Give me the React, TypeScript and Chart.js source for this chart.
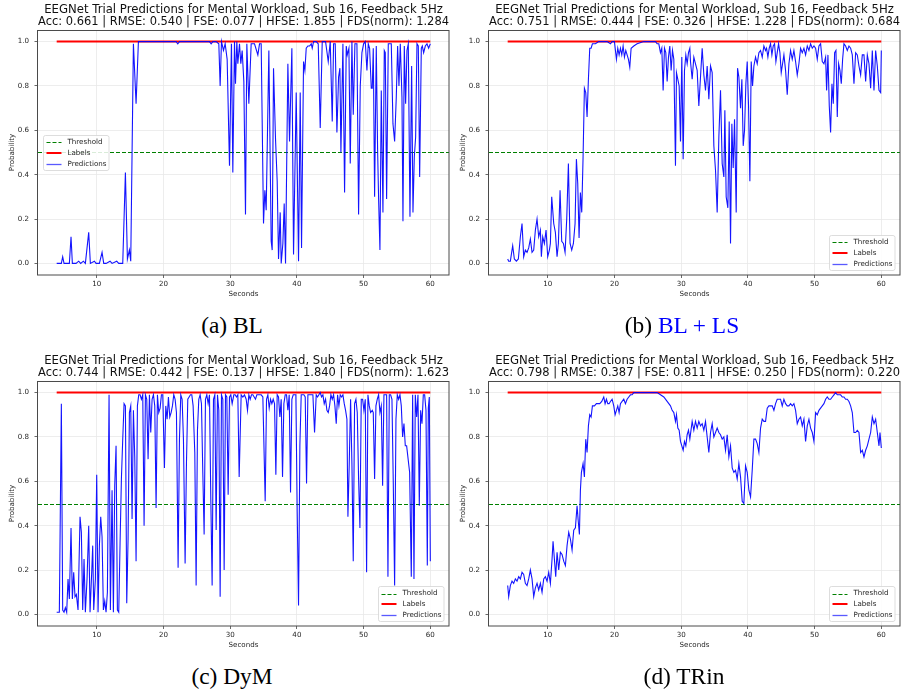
import React, { useEffect, useRef } from "react";
import { Chart, registerables } from "chart.js";
Chart.register(...registerables);

const SANS = "'DejaVu Sans', sans-serif";
const SERIF = "'Liberation Serif', 'Times New Roman', serif";

const TITLE = "EEGNet Trial Predictions for Mental Workload, Sub 16, Feedback 5Hz";
const X_TICKS = [10, 20, 30, 40, 50, 60];
const Y_TICKS = [0, 0.2, 0.4, 0.6, 0.8, 1.0];
const X_LIMITS = [1.2, 62.8];
const Y_LIMITS = [-0.05, 1.05];
const THRESHOLD = 0.5;
const LABEL_VALUE = 1.0;
const LEGEND_LABELS = ["Threshold", "Labels", "Predictions"];

// (a) BL
const BL_SECONDS = [4.0,4.5,4.7,4.9,5.1,5.9,6.15,6.35,6.9,7.3,7.6,8.0,8.3,8.8,9.05,9.65,9.9,10.4,10.8,11.05,11.4,12.0,12.3,13.0,13.3,13.9,14.3,14.6,14.9,15.1,15.5,15.9,16.25,17.9,21.9,22.15,22.4,26.9,27.15,27.4,27.9,28.3,28.5,28.7,29.0,29.25,29.55,29.9,30.2,30.4,30.65,30.8,31.0,31.15,31.4,31.6,31.8,32.05,32.3,32.5,32.8,
33.15,33.65,34.15,34.4,34.65,35.0,35.2,35.4,35.8,36.15,36.3,36.5,36.8,37.05,37.25,37.5,37.65,37.9,38.1,38.3,38.65,38.9,39.25,39.5,39.9,40.25,40.5,40.7,41.0,41.2,41.4,41.65,41.9,42.15,42.3,42.5,42.9,43.2,43.5,43.8,44.3,44.7,45.0,45.3,45.5,45.75,46.0,46.25,46.45,46.6,46.9,47.15,47.4,47.55,47.8,48.0,48.25,48.45,48.7,49.0,49.25,49.5,49.75,50.0,50.25,50.5,50.7,50.9,51.15,51.3,51.45,51.65,51.9,52.1,52.25,52.45,52.65,52.9,53.1,53.25,53.45,53.7,54.15,54.4,54.65,54.9,55.1,55.3,55.5,55.75,55.9,56.1,56.3,56.5,56.7,56.95,57.2,57.4,57.6,57.8,58.0,58.2,58.4,58.65,58.8,59.0,59.25,59.5,59.75,60.0];
const BL_PRED = [0.00,0.00,0.00,0.03,0.00,0.00,0.12,0.00,0.00,0.01,0.00,0.01,0.00,0.14,0.00,0.01,0.00,0.00,0.05,0.00,0.00,0.01,0.00,0.01,0.00,0.00,0.41,0.02,0.06,0.01,0.99,0.72,1.0,1.0,1.0,0.99,1.0,1.0,0.99,1.0,1.0,0.99,0.80,1.0,0.96,0.99,0.92,0.44,0.99,0.41,1.0,0.81,1.0,0.90,0.99,0.90,0.96,0.82,0.22,0.99,0.72,
0.99,0.99,0.94,0.99,0.99,0.18,0.33,0.24,0.96,0.10,0.06,0.88,0.56,0.37,0.02,0.23,0.00,0.09,0.27,0.00,0.90,0.55,0.97,0.04,0.77,0.01,0.77,0.07,0.91,0.87,0.97,0.98,0.98,0.99,0.97,1.0,1.0,0.99,0.61,1.0,1.0,0.91,1.0,0.64,0.99,0.99,0.59,0.84,0.88,0.50,0.99,0.32,0.98,0.94,0.97,0.45,1.0,0.67,0.99,0.99,0.22,0.80,0.95,0.99,1.0,0.87,0.99,0.97,0.79,0.79,0.97,0.30,0.98,0.51,0.29,0.06,0.78,0.23,0.96,0.95,0.29,0.99,0.99,0.63,0.55,0.75,0.98,0.80,0.99,0.75,0.19,0.98,0.72,0.96,0.99,0.21,0.89,0.23,0.48,0.57,0.99,0.98,0.39,0.97,0.98,0.95,0.98,0.99,0.97,0.99];

// (b) BL + LS
const LS_SECONDS = [4.0,4.15,4.4,4.75,5.0,5.3,5.6,5.9,6.15,6.4,6.65,6.9,7.15,7.4,7.65,7.9,8.15,8.4,8.65,8.9,9.05,9.25,9.5,9.75,10.0,10.25,10.4,10.6,10.9,11.15,11.4,11.6,11.85,12.1,12.35,12.6,12.85,13.1,13.35,13.6,13.85,14.1,14.3,14.5,14.7,14.9,15.1,15.3,15.5,15.7,15.9,16.1,16.3,16.5,16.7,17.15,17.65,18.4,18.9,19.4,19.65,20.0,20.3,20.5,20.7,20.9,21.1,21.3,21.5,21.7,21.9,22.1,22.3,22.5,22.9,23.4,24.4,25.4,26.15,26.4,26.65,26.9,27.1,27.3,27.5,27.7,27.9,28.1,28.3,28.5,28.7,28.9,29.15,29.3,29.5,29.7,29.9,30.1,30.3,30.5,30.7,30.9,31.1,31.3,
31.4,31.65,31.9,32.15,32.4,32.65,32.9,33.15,33.4,33.65,33.9,34.15,34.4,34.65,34.9,35.15,35.4,35.65,35.9,36.15,36.4,36.55,36.75,37.0,37.2,37.4,37.6,37.8,38.0,38.25,38.45,38.65,38.9,39.1,39.3,39.5,39.7,39.9,40.1,40.3,40.5,40.7,40.9,41.15,41.4,41.65,41.9,42.15,42.4,42.65,42.8,43.0,43.2,43.4,43.6,43.8,44.0,44.2,44.4,44.6,44.8,45.0,45.2,45.4,45.65,45.9,46.15,46.4,46.65,46.9,47.15,47.4,47.65,47.9,48.15,48.4,48.65,48.9,49.15,49.4,49.65,49.9,50.15,50.4,50.65,50.9,51.15,51.4,51.65,51.8,52.0,52.2,52.4,52.6,52.8,53.0,53.2,53.4,53.6,53.8,54.0,54.2,54.4,54.65,54.9,55.15,55.4,55.65,55.9,56.15,56.4,56.65,56.9,57.15,57.4,57.65,57.9,58.15,58.4,58.65,58.9,59.15,59.4,59.65,59.9,60.0];
const LS_PRED = [0.02,0.01,0.01,0.08,0.02,0.01,0.02,0.12,0.18,0.03,0.06,0.05,0.07,0.11,0.05,0.06,0.15,0.20,0.12,0.15,0.03,0.12,0.09,0.15,0.03,0.06,0.09,0.30,0.18,0.14,0.03,0.09,0.33,0.10,0.09,0.05,0.20,0.45,0.09,0.06,0.09,0.18,0.47,0.36,0.115,0.32,0.23,0.48,0.79,0.77,0.66,0.83,0.97,0.97,0.99,0.99,1.0,1.0,1.0,0.99,1.0,1.0,0.92,0.97,0.94,0.97,0.94,0.98,0.93,0.96,0.94,0.92,0.885,0.97,0.98,0.99,1.0,1.0,1.0,0.99,0.99,0.95,0.97,0.78,0.97,0.95,0.82,0.93,0.98,0.87,0.96,0.92,0.44,0.86,0.83,0.80,0.55,0.93,0.47,0.87,0.94,0.90,0.95,0.97,
0.91,0.83,0.93,0.90,0.87,0.71,0.84,0.97,0.85,0.78,0.89,0.74,0.89,0.86,0.53,0.42,0.23,0.57,0.78,0.45,0.39,0.69,0.30,0.25,0.64,0.09,0.63,0.43,0.65,0.23,0.88,0.84,0.70,0.83,0.53,0.60,0.81,0.91,0.71,0.37,0.91,0.80,0.89,0.93,0.90,0.95,0.96,0.93,0.98,0.96,0.97,0.93,0.97,0.99,0.94,0.98,0.99,0.91,0.95,0.99,0.95,0.86,0.90,0.94,0.87,0.76,0.90,0.96,0.92,0.96,0.91,0.85,0.90,0.97,0.95,0.97,0.94,0.98,0.96,0.99,0.97,0.98,0.97,0.92,0.98,0.99,0.91,0.90,0.93,0.78,0.94,0.71,0.59,0.81,0.72,0.95,0.96,0.66,0.90,0.87,0.81,0.92,0.99,0.98,0.96,0.98,0.97,0.94,0.81,0.95,0.94,0.89,0.85,0.94,0.94,0.82,0.94,0.90,0.79,0.96,0.78,0.96,0.89,0.78,0.77,0.96];

// (c) DyM
const DYM_SECONDS = [4.0,4.15,4.4,4.7,4.9,5.1,5.3,5.5,5.7,5.9,6.15,6.35,6.55,6.75,6.95,7.2,7.5,7.7,7.9,8.1,8.3,8.55,8.8,9.0,9.25,9.4,9.55,9.8,10.0,10.2,10.4,10.6,10.8,11.0,11.2,11.4,11.6,11.85,12.05,12.3,12.5,12.7,12.9,13.1,13.3,13.5,13.7,13.9,14.1,14.3,14.5,14.7,14.9,15.1,15.3,15.5,15.7,15.9,16.1,16.3,16.5,16.7,16.9,17.1,17.3,17.5,17.7,17.9,18.1,18.3,18.5,18.7,18.9,19.1,19.3,19.5,19.7,19.9,20.15,20.35,20.55,20.75,20.95,21.15,21.35,21.55,21.75,21.95,22.2,22.4,22.6,22.8,23.0,23.25,23.45,23.65,23.85,24.05,24.25,24.45,24.7,24.9,25.1,25.3,25.5,25.7,25.9,26.1,26.3,26.5,26.7,26.9,27.1,27.3,27.5,27.7,27.9,28.1,28.3,28.5,28.7,28.9,29.1,29.3,29.5,29.7,29.9,30.1,30.3,30.55,30.75,30.95,31.15,31.35,
31.65,31.9,32.15,32.4,32.6,32.8,33.0,33.2,33.4,33.6,33.8,34.0,34.2,34.4,34.65,34.9,35.05,35.25,35.45,35.65,35.85,36.05,36.25,36.45,36.65,36.85,37.05,37.25,37.45,37.65,37.85,38.05,38.25,38.45,38.65,38.85,39.05,39.25,39.45,39.65,39.85,40.05,40.25,40.45,40.65,40.85,41.05,41.25,41.45,41.65,41.9,42.15,42.4,42.65,42.9,43.1,43.3,43.5,43.7,43.9,44.1,44.3,44.5,44.7,44.9,45.1,45.3,45.5,45.7,45.9,46.1,46.3,46.5,46.7,46.9,47.1,47.3,47.5,47.65,47.85,48.05,48.25,48.45,48.65,48.85,49.05,49.25,49.45,49.65,49.85,50.05,50.25,50.45,50.65,50.85,51.05,51.3,51.45,51.65,51.85,52.05,52.25,52.45,52.65,52.85,53.05,53.25,53.45,53.65,53.85,54.05,54.25,54.45,54.65,54.85,55.05,55.25,55.45,55.65,55.85,56.05,56.25,56.45,56.9,57.15,57.35,57.55,57.75,57.95,58.15,58.35,58.55,58.75,58.95,59.15,59.35,59.55,59.7,59.85,60.0];
const DYM_PRED = [0.01,0.01,0.01,0.95,0.02,0.01,0.03,0.01,0.16,0.07,0.39,0.07,0.19,0.08,0.09,0.02,0.44,0.37,0.02,0.25,0.01,0.16,0.40,0.01,0.19,0.31,0.02,0.16,0.63,0.01,0.31,0.44,0.35,0.02,0.06,0.01,0.10,0.99,0.02,0.56,0.01,0.58,0.76,0.02,0.01,0.32,0.61,0.79,0.95,0.94,0.05,0.34,0.91,0.94,0.43,0.92,0.71,0.24,0.94,0.99,0.99,0.97,0.99,0.40,0.99,0.97,0.70,0.99,0.82,0.97,0.99,0.94,0.48,0.99,0.91,0.93,0.99,0.99,0.66,0.94,0.88,0.98,0.89,0.91,0.94,0.99,0.97,0.91,0.21,0.79,0.99,0.97,0.79,0.23,0.68,0.97,0.98,0.99,0.99,0.94,0.73,0.13,0.83,0.97,0.99,0.95,0.64,0.36,0.97,0.99,0.95,0.99,0.52,0.13,0.97,0.99,0.38,0.99,0.92,0.08,0.99,0.97,0.20,0.99,0.98,0.54,0.98,0.99,0.95,0.99,0.99,0.98,0.99,0.62,
0.99,0.98,0.99,0.97,0.92,0.99,0.97,0.99,0.99,0.98,0.97,0.99,0.99,0.99,0.99,0.98,0.78,0.51,0.97,0.99,0.93,0.97,0.95,0.97,0.95,0.63,0.99,0.98,0.89,0.97,0.62,0.95,0.99,0.99,0.92,0.99,0.55,0.97,0.99,0.99,0.99,0.46,0.04,0.76,0.99,0.99,0.99,0.98,0.59,0.99,0.99,0.99,0.99,0.82,0.99,0.98,0.99,1.0,0.98,0.99,0.95,0.97,0.92,0.91,0.94,0.99,0.97,0.99,0.94,0.86,0.99,0.94,0.99,0.98,0.99,0.95,0.92,0.88,0.44,0.68,0.97,0.68,0.24,0.95,0.97,0.91,0.61,0.39,0.97,0.97,0.92,0.97,0.19,0.99,0.94,0.91,0.92,0.91,0.61,0.94,0.97,0.99,0.91,0.94,0.58,0.99,0.99,0.99,0.17,0.99,0.99,0.97,0.59,0.13,0.88,0.99,0.97,0.99,0.94,0.80,0.86,0.76,0.76,0.64,0.17,0.99,0.16,0.99,0.89,0.99,0.49,0.92,0.86,0.99,0.99,0.92,0.22,0.93,0.98,0.24];

// (d) TRin
const TRIN_SECONDS = [4.0,4.15,4.4,4.65,4.9,5.15,5.4,5.65,5.9,6.15,6.4,6.65,6.9,7.15,7.4,7.65,7.9,8.15,8.4,8.65,8.9,9.15,9.4,9.65,9.9,10.15,10.4,10.65,10.8,11.0,11.2,11.4,11.65,11.9,12.15,12.4,12.65,12.9,13.15,13.4,13.65,13.9,14.15,14.4,14.55,14.75,14.9,15.05,15.3,15.5,15.7,15.9,16.1,16.3,16.5,16.7,17.0,17.3,17.5,17.8,18.1,18.4,18.6,18.8,19.0,19.2,19.4,19.65,19.9,20.1,20.3,20.5,20.7,20.9,21.15,21.4,21.65,21.9,22.15,22.4,22.65,22.9,23.4,24.4,25.4,26.4,26.9,27.4,27.9,28.4,28.65,28.9,29.15,29.3,29.5,29.7,29.9,30.1,30.3,30.5,30.7,30.9,31.1,31.3,
31.65,31.9,32.15,32.4,32.65,32.9,33.15,33.4,33.65,33.9,34.15,34.4,34.65,34.9,35.15,35.4,35.65,35.9,36.15,36.4,36.65,36.9,37.15,37.4,37.65,37.9,38.15,38.4,38.65,38.9,39.15,39.4,39.65,39.9,40.15,40.4,40.65,40.9,41.15,41.4,41.65,41.9,42.15,42.4,42.65,42.9,43.15,43.4,43.65,43.9,44.15,44.4,44.65,44.9,45.15,45.4,45.65,45.9,46.15,46.4,46.65,46.9,47.15,47.4,47.65,47.9,48.15,48.4,48.65,48.9,49.15,49.4,49.65,49.9,50.15,50.4,50.65,50.9,51.15,51.4,51.65,51.9,52.15,52.4,52.65,52.9,53.15,53.4,53.65,53.9,54.15,54.4,54.65,54.9,55.15,55.4,55.65,55.9,56.15,56.4,56.65,56.9,57.15,57.4,57.65,57.9,58.15,58.4,58.65,58.9,59.15,59.4,59.65,59.8,60.0];
const TRIN_PRED = [0.13,0.08,0.13,0.15,0.14,0.16,0.15,0.17,0.16,0.19,0.18,0.14,0.13,0.16,0.20,0.16,0.08,0.12,0.14,0.11,0.14,0.10,0.16,0.17,0.15,0.19,0.14,0.25,0.33,0.25,0.17,0.28,0.20,0.28,0.27,0.24,0.22,0.31,0.37,0.34,0.29,0.38,0.39,0.49,0.43,0.36,0.56,0.64,0.68,0.62,0.79,0.73,0.85,0.90,0.89,0.94,0.94,0.95,0.95,0.95,0.96,0.98,0.95,0.97,0.95,0.95,0.96,0.97,0.94,0.90,0.92,0.94,0.91,0.95,0.96,0.97,0.95,0.97,0.98,0.99,0.99,1.0,1.0,1.0,1.0,1.0,0.99,0.98,0.96,0.94,0.92,0.91,0.87,0.90,0.84,0.83,0.78,0.76,0.74,0.78,0.76,0.81,0.83,0.79,
0.87,0.83,0.87,0.84,0.87,0.85,0.86,0.83,0.87,0.80,0.73,0.82,0.86,0.80,0.82,0.84,0.82,0.81,0.79,0.80,0.74,0.81,0.71,0.76,0.66,0.64,0.65,0.61,0.68,0.62,0.51,0.50,0.67,0.64,0.56,0.53,0.65,0.79,0.79,0.77,0.73,0.84,0.88,0.87,0.87,0.93,0.94,0.94,0.94,0.92,0.95,0.97,0.97,0.97,0.94,0.97,0.95,0.94,0.94,0.95,0.94,0.95,0.92,0.86,0.88,0.89,0.85,0.88,0.78,0.85,0.88,0.84,0.82,0.78,0.91,0.90,0.92,0.93,0.94,0.95,0.97,0.98,0.97,0.97,0.98,0.99,1.0,0.99,0.99,0.99,0.98,0.98,0.97,0.97,0.96,0.94,0.91,0.82,0.82,0.83,0.82,0.73,0.74,0.71,0.74,0.76,0.79,0.82,0.89,0.86,0.88,0.82,0.76,0.82,0.75];

const METRICS = [
  "Acc: 0.661 | RMSE: 0.540 | FSE: 0.077 | HFSE: 1.855 | FDS(norm): 1.284",
  "Acc: 0.751 | RMSE: 0.444 | FSE: 0.326 | HFSE: 1.228 | FDS(norm): 0.684",
  "Acc: 0.744 | RMSE: 0.442 | FSE: 0.137 | HFSE: 1.840 | FDS(norm): 1.623",
  "Acc: 0.798 | RMSE: 0.387 | FSE: 0.811 | HFSE: 0.250 | FDS(norm): 0.220",
];

const CANVAS_W = 460;
const CANVAS_H = 305;
const GREEN = "#008000";

// snap a thin horizontal line to an even page row so its colour stays crisp
function evenRow(canvasY: number, pageTop: number) {
  let r = Math.floor(canvasY);
  if ((r + pageTop) % 2 !== 0) r += 1;
  return r + 0.5;
}

const mplPlugin = {
  id: "mpl",
  beforeDatasetsDraw(chart: any, _a: any, opts: any) {
    const { ctx, chartArea: ca, scales } = chart;
    const y = evenRow(scales.y.getPixelForValue(THRESHOLD), opts.pageTop || 0);
    ctx.save();
    ctx.strokeStyle = GREEN;
    ctx.lineWidth = 1.1;
    ctx.setLineDash([4, 2]);
    ctx.beginPath();
    ctx.moveTo(ca.left, y);
    ctx.lineTo(ca.right, y);
    ctx.stroke();
    ctx.restore();
  },
  afterDatasetsDraw(chart: any, _a: any, opts: any) {
    const { ctx, chartArea: ca } = chart;
    const pageTop = opts.pageTop || 0;
    ctx.save();
    ctx.strokeStyle = "#4a4a4a";
    ctx.lineWidth = 1;
    ctx.strokeRect(ca.left - 0.5, ca.top, ca.right - ca.left + 0.5, ca.bottom - ca.top + 0.5);
    // legend
    const w = 65.5;
    const h = 35;
    let x: number, y: number;
    if (opts.pos === "left") {
      x = ca.left + 4.7;
      y = (ca.top + ca.bottom) / 2 - h / 2;
    } else {
      x = ca.right - 5.3 - w;
      y = ca.bottom - 4.5 - h;
    }
    x = Math.round(x) + 0.5;
    y = Math.round(y) + 0.5;
    ctx.fillStyle = "rgba(255,255,255,0.85)";
    ctx.strokeStyle = "#d4d4d4";
    ctx.lineWidth = 0.8;
    ctx.beginPath();
    (ctx as any).roundRect(x, y, w, h, 2);
    ctx.fill();
    ctx.stroke();
    const styles = [
      { c: GREEN, lw: 1.1, dash: [4, 2] },
      { c: "#ff0000", lw: 2, dash: [] },
      { c: "rgba(0,0,255,0.65)", lw: 1.3, dash: [] },
    ];
    ctx.font = `7.1px ${SANS}`;
    ctx.textBaseline = "middle";
    ctx.textAlign = "left";
    LEGEND_LABELS.forEach((lab, i) => {
      const yy = Math.round(y + 6.5 + i * 11);
      const s = styles[i];
      ctx.strokeStyle = s.c;
      ctx.lineWidth = s.lw;
      ctx.setLineDash(s.dash);
      ctx.beginPath();
      const ly = i === 0 ? evenRow(yy, pageTop) : s.lw === 2 ? yy : yy + 0.5;
      ctx.moveTo(x + 3, ly);
      ctx.lineTo(x + 18, ly);
      ctx.stroke();
      ctx.setLineDash([]);
      ctx.fillStyle = "#262626";
      ctx.fillText(lab, x + 24, yy + 0.5);
    });
    ctx.restore();
  },
};

function Panel(props: { left: number; top: number; seconds: number[]; preds: number[]; metrics: string; legendPos: string }) {
  const ref = useRef<HTMLCanvasElement>(null);
  useEffect(() => {
    const { seconds, preds } = props;
    const tickFont = { family: SANS, size: 7.1 };
    const chart = new Chart(ref.current as HTMLCanvasElement, {
      type: "line",
      data: {
        datasets: [
          {
            label: "Predictions",
            data: seconds.map((t, i) => ({ x: t, y: preds[i] })),
            borderColor: "rgba(0,0,255,0.92)",
            borderWidth: 1.1,
            pointRadius: 0,
            tension: 0,
          },
          {
            label: "Labels",
            data: [
              { x: seconds[0], y: LABEL_VALUE },
              { x: seconds[seconds.length - 1], y: LABEL_VALUE },
            ],
            borderColor: "#ff0000",
            borderWidth: 2,
            pointRadius: 0,
          },
        ],
      } as any,
      options: {
        responsive: false,
        animation: false,
        events: [],
        layout: { padding: { left: 0, right: 11, top: 0, bottom: 0 } },
        plugins: {
          legend: { display: false },
          tooltip: { enabled: false },
          title: {
            display: true,
            text: [TITLE, props.metrics],
            fullSize: false,
            color: "#111",
            font: { family: SANS, size: 11.7, weight: "normal", lineHeight: 1.085 },
            padding: { top: 3.3, bottom: 1.8 },
          },
          mpl: { pos: props.legendPos, pageTop: props.top },
        } as any,
        scales: {
          x: {
            type: "linear",
            min: X_LIMITS[0],
            max: X_LIMITS[1],
            afterBuildTicks: (s: any) => {
              s.ticks = X_TICKS.map((v) => ({ value: v }));
            },
            afterFit: (s: any) => {
              s.height = 30.5;
            },
            grid: { color: "#e9e9e9", lineWidth: 0.8, tickColor: "#444", tickLength: 3.5 },
            border: { display: false },
            ticks: { font: tickFont, color: "#262626", padding: 2, maxRotation: 0, autoSkip: false, callback: (v: any) => String(v) },
            title: { display: true, text: "Seconds", font: tickFont, color: "#262626", padding: { top: 0, bottom: 6.7 } },
          },
          y: {
            type: "linear",
            min: Y_LIMITS[0],
            max: Y_LIMITS[1],
            afterBuildTicks: (s: any) => {
              s.ticks = Y_TICKS.map((v) => ({ value: v }));
            },
            afterFit: (s: any) => {
              s.width = 38;
            },
            grid: { color: "#e9e9e9", lineWidth: 0.8, tickColor: "#444", tickLength: 3.5 },
            border: { display: false },
            ticks: { font: tickFont, color: "#262626", padding: 5.5, callback: (v: any) => Number(v).toFixed(1) },
            title: { display: true, text: "Probability", font: tickFont, color: "#262626", padding: { top: 8.2, bottom: 0 } },
          },
        } as any,
      },
      plugins: [mplPlugin as any],
    });
    return () => chart.destroy();
  }, []);
  return (
    <canvas
      ref={ref}
      width={CANVAS_W}
      height={CANVAS_H}
      style={{ position: "absolute", left: props.left, top: props.top, width: CANVAS_W, height: CANVAS_H }}
    />
  );
}

function Caption(props: { cx: number; cy: number; children: any }) {
  return (
    <div
      style={{
        position: "absolute",
        left: props.cx - 150,
        top: props.cy - 15,
        width: 300,
        height: 30,
        lineHeight: "30px",
        textAlign: "center",
        fontFamily: SERIF,
        fontSize: 23.4,
        color: "#000",
        whiteSpace: "nowrap",
      }}
    >
      {props.children}
    </div>
  );
}

export default function App() {
  return (
    <div style={{ position: "fixed", left: 0, top: 0, width: 907, height: 693, background: "#fff", overflow: "hidden" }}>
      <Panel left={0} top={0} seconds={BL_SECONDS} preds={BL_PRED} metrics={METRICS[0]} legendPos="left" />
      <Panel left={451} top={0} seconds={LS_SECONDS} preds={LS_PRED} metrics={METRICS[1]} legendPos="lowerRight" />
      <Panel left={0} top={351} seconds={DYM_SECONDS} preds={DYM_PRED} metrics={METRICS[2]} legendPos="lowerRight" />
      <Panel left={451} top={351} seconds={TRIN_SECONDS} preds={TRIN_PRED} metrics={METRICS[3]} legendPos="lowerRight" />
      <Caption cx={232} cy={325}>(a) BL</Caption>
      <Caption cx={682} cy={325}>
        (b) <span style={{ color: "#0000ff" }}>BL + LS</span>
      </Caption>
      <Caption cx={232} cy={676}>(c) DyM</Caption>
      <Caption cx={684} cy={676}>(d) TRin</Caption>
    </div>
  );
}
